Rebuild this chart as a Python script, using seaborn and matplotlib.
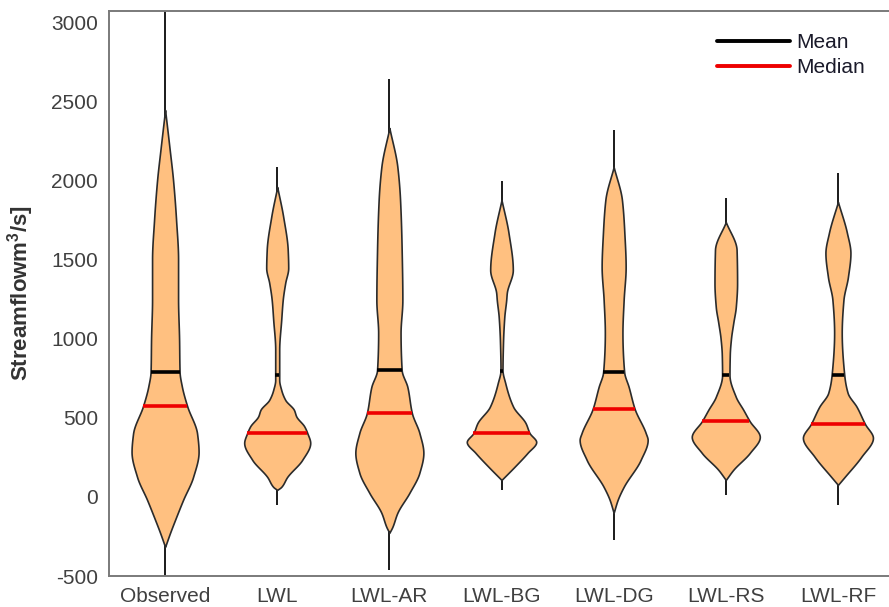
import numpy as np
import matplotlib
matplotlib.use("Agg")
import matplotlib.pyplot as plt
import seaborn as sns
from matplotlib.lines import Line2D

# ---------------- data ----------------
categories = ["Observed", "LWL", "LWL-AR", "LWL-BG", "LWL-DG", "LWL-RS", "LWL-RF"]

# density profile of each violin: streamflow levels and relative half-width
obs_y = [-316, -227, -145, -19, 126, 284, 400, 575, 700, 790, 1000, 1250, 1500, 1750, 2000, 2200, 2445]
obs_w = [0, 5, 10, 18, 28, 33.5, 32, 22, 16.7, 14.5, 14, 13, 13, 11, 8, 4.5, 0]

lwl_y = [44, 63, 126, 234, 341, 404, 446, 509, 550, 613, 676, 739, 929, 1118, 1244, 1352, 1447, 1560, 1769, 1958]
lwl_w = [0, 4, 10, 25, 33, 30, 27, 19, 16.7, 8, 4, 2, 2, 4, 5.5, 8, 11, 10.5, 6, 0]

ar_y = [-227, -190, -101, 25, 152, 278, 404, 530, 695, 802, 1036, 1244, 1560, 1876, 2085, 2331]
ar_w = [0, 3, 8, 20, 30, 34, 30, 22.5, 18, 12.3, 11.2, 13, 12.3, 10.7, 8, 0]

bg_y = [107, 126, 190, 278, 347, 404, 467, 569, 720, 802, 973, 1137, 1244, 1289, 1434, 1668, 1876]
bg_w = [0, 3, 13, 26, 34.7, 28, 24, 11.7, 3.7, 1, 1.5, 2.8, 4.7, 5.3, 11.3, 7, 0]

dg_y = [-101, -19, 63, 234, 360, 404, 556, 695, 790, 1036, 1244, 1453, 1668, 1876, 2085]
dg_w = [0, 4, 10, 27, 34, 32, 21, 15, 10.5, 8.8, 10, 12, 10.7, 8.3, 0]

rs_y = [107, 171, 278, 379, 480, 550, 632, 771, 900, 1000, 1100, 1200, 1350, 1560, 1737]
rs_w = [0, 7.5, 24, 34, 23.7, 17.5, 10, 3.7, 4, 5.2, 7.5, 10, 11.3, 10.8, 0]

rf_y = [76, 126, 253, 373, 461, 569, 657, 771, 1036, 1244, 1390, 1541, 1668, 1864]
rf_w = [0, 6.7, 23.3, 35, 27, 18.7, 9.7, 6.3, 3.8, 5.5, 10, 12.5, 9, 0]

profiles_y = [obs_y, lwl_y, ar_y, bg_y, dg_y, rs_y, rf_y]
profiles_w = [obs_w, lwl_w, ar_w, bg_w, dg_w, rs_w, rf_w]

mins = [-500, -50, -461, 44, -272, 13, -50]
maxs = [3100, 2085, 2640, 1996, 2318, 1889, 2047]
means = [790, 770, 800, 796, 790, 771, 771]
medians = [575, 404, 530, 404, 556, 480, 461]

yticks = [-500, 0, 500, 1000, 1500, 2000, 2500, 3000]


def smooth_outline(x, y, n=400):
    """Shape-preserving (monotone cubic) outline through the read points."""
    x = np.asarray(x, float)
    y = np.asarray(y, float)
    h = np.diff(x)
    d = np.diff(y) / h
    m = np.zeros_like(y)
    m[0], m[-1] = d[0], d[-1]
    for k in range(1, len(x) - 1):
        if d[k - 1] * d[k] > 0:
            w1 = 2 * h[k] + h[k - 1]
            w2 = h[k] + 2 * h[k - 1]
            m[k] = (w1 + w2) / (w1 / d[k - 1] + w2 / d[k])
    xn = np.linspace(x[0], x[-1], n)
    idx = np.clip(np.searchsorted(x, xn) - 1, 0, len(x) - 2)
    t = (xn - x[idx]) / h[idx]
    h00 = 2 * t**3 - 3 * t**2 + 1
    h10 = t**3 - 2 * t**2 + t
    h01 = -2 * t**3 + 3 * t**2
    h11 = t**3 - t**2
    yn = h00 * y[idx] + h10 * h[idx] * m[idx] + h01 * y[idx + 1] + h11 * h[idx] * m[idx + 1]
    return xn, np.clip(yn, 0, None)


# ---------------- style ----------------
sns.set_theme(style="white")
plt.rcParams["font.family"] = ["Liberation Sans", "DejaVu Sans"]
plt.rcParams["mathtext.default"] = "regular"

W, H = 889, 607
fig = plt.figure(figsize=(W / 100, H / 100), dpi=100)
ax = fig.add_axes([109 / W, 31 / H, 785 / W, 565 / H])

SCALE = 1 / 112.1          # relative width -> x-axis units
FILL = "#FFC080"
EDGE = "#2b2b2b"

for i, cat in enumerate(categories):
    pos = i + 1
    y, w = smooth_outline(profiles_y[i], profiles_w[i])
    w = w * SCALE
    ax.vlines(pos, mins[i], maxs[i], color="#1a1a1a", lw=1.4, zorder=2)
    ax.fill_betweenx(y, pos - w, pos + w, facecolor=FILL, edgecolor=EDGE,
                     lw=1.2, zorder=3)
    wm = max(np.interp(means[i], y, w), 1.5 * SCALE)
    wd = max(np.interp(medians[i], y, w), 1.5 * SCALE)
    ax.hlines(means[i], pos - wm, pos + wm, color="black", lw=2.6, zorder=4)
    ax.hlines(medians[i], pos - wd, pos + wd, color="#ee0000", lw=2.6, zorder=5)

ax.set_xlim(0.5, 7.5)
ax.set_ylim(-500, 3070)
ax.set_xticks(range(1, len(categories) + 1))
ax.set_xticklabels(categories)
ax.set_yticks(yticks)
ax.set_yticklabels([str(t) for t in yticks])
ax.tick_params(axis="both", length=0, labelsize=15, labelcolor="#404040")
ax.tick_params(axis="x", pad=8)
ax.tick_params(axis="y", pad=8)

for s in ax.spines.values():
    s.set_color("#7a7a7a")
    s.set_linewidth(1.4)

ax.set_ylabel("Streamflowm$^{3}$/s]", fontsize=16, fontweight="bold", color="#333333")
ax.yaxis.set_label_coords(-0.093, 0.5)

handles = [Line2D([], [], color="black", lw=2.8),
           Line2D([], [], color="#ee0000", lw=2.8)]
ax.legend(handles, ["Mean", "Median"], loc="upper left",
          bbox_to_anchor=(717 / W, 1 - 33 / H), bbox_transform=fig.transFigure,
          frameon=False, fontsize=15, handlelength=3.5, handletextpad=0.3,
          labelspacing=0.3, borderpad=0, borderaxespad=0, labelcolor="#1a1a2a")

fig.savefig("out.png", dpi=100)
